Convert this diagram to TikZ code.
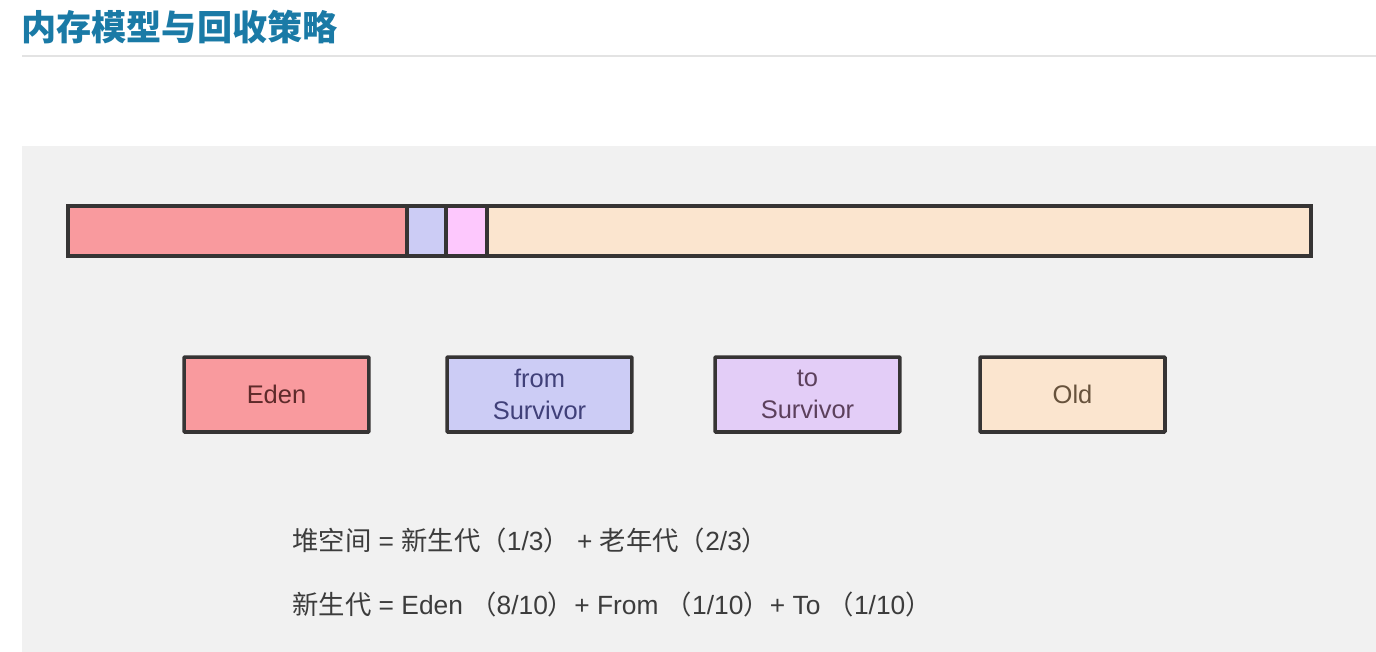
\documentclass[tikz,border=0pt]{standalone}
\usepackage{fontspec}
\setmainfont{Liberation Sans}
\newfontfamily\zhfont{Noto Sans CJK SC}
\usepackage{tikz}
\usetikzlibrary{positioning}

\definecolor{titleblue}{HTML}{1A7AA6}
\definecolor{panel}{HTML}{F1F1F1}
\definecolor{rule}{HTML}{E3E3E3}
\definecolor{edenred}{HTML}{F99A9E}
\definecolor{fromblue}{HTML}{CCCCF5}
\definecolor{topink}{HTML}{FDC8FD}
\definecolor{tolilac}{HTML}{E3CDF7}
\definecolor{oldsand}{HTML}{FBE5CF}
\definecolor{edge}{HTML}{363434}
\definecolor{txt}{HTML}{3C3C3C}

\newcommand{\zh}[1]{{\zhfont #1}}

\tikzset{
 seg/.style={draw=edge, line width=2pt, rectangle, inner sep=0pt, outer sep=0pt,
  minimum height=1cm, anchor=west},
 box/.style={draw=edge, line width=2pt, rectangle, rounded corners=0.5pt,
  minimum width=3.7cm, minimum height=1.5cm, align=center,
  font=\fontsize{14.5pt}{18pt}\selectfont},
 formula/.style={anchor=west, inner sep=0pt, text=txt,
  font=\fontsize{15pt}{18pt}\selectfont}
}

\begin{document}
\begin{tikzpicture}[x=0.02cm, y=-0.02cm]
 \useasboundingbox (0, 0) rectangle (1376, 652);
 \fill[panel] (22, 146) rectangle (1376, 652);
 \draw[rule, line width=0.6pt] (22, 56) -- (1376, 56);
 \node[anchor=west, inner sep=0pt, text=titleblue, font=\fontsize{20pt}{24pt}\zhfont\bfseries] (title) at (21, 27) {内存模型与回收策略};

 % heap bar
 \node[seg, fill=edenred, minimum width=6.78cm] (eden) at (68, 231) {};
 \node[seg, fill=fromblue, minimum width=0.78cm, right=0pt of eden] (from) {};
 \node[seg, fill=topink, minimum width=0.82cm, right=0pt of from] (to) {};
 \node[seg, fill=oldsand, minimum width=16.48cm, right=0pt of to] (old) {};

 % legend
 \node[box, fill=edenred, text=edge!80!red] (edenbox) at (276.5, 394.5) {Eden};
 \node[box, fill=fromblue, text=blue!30!black!75] (frombox) at (539.5, 394.5) {from\\Survivor};
 \node[box, fill=tolilac, text=violet!30!black!75] (tobox) at (807.5, 394.5) {to\\Survivor};
 \node[box, fill=oldsand, text=brown!40!black!85] (oldbox) at (1072.5, 394.5) {Old};

 \node[formula] (heap) at (292, 540) {\zh{堆空间} = \zh{新生代（}1/3\zh{）} + \zh{老年代（}2/3\zh{）}};
 \node[formula] (young) at (292, 604) {\zh{新生代} = Eden \zh{（}8/10\zh{）}+ From \zh{（}1/10\zh{）}+ To \zh{（}1/10\zh{）}};
\end{tikzpicture}
\end{document}
